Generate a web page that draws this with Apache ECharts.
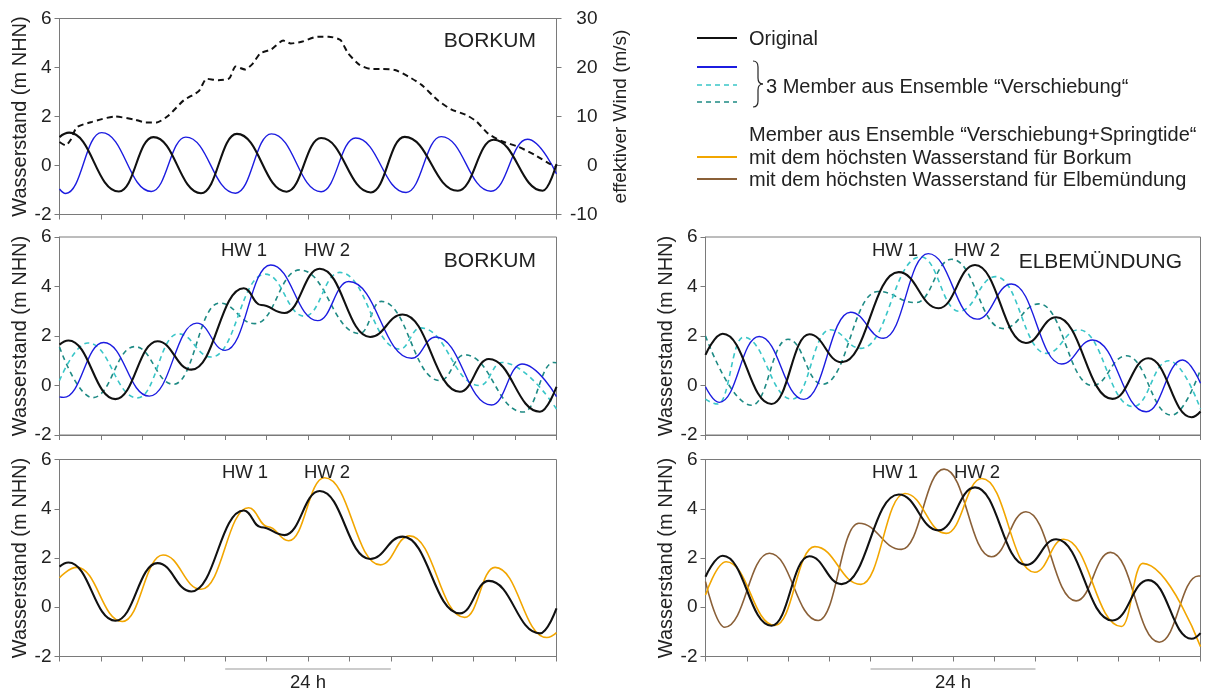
<!DOCTYPE html>
<html>
<head>
<meta charset="utf-8">
<script src="https://cdn.jsdelivr.net/npm/echarts@6/dist/echarts.min.js"></script>
<style>
html,body{margin:0;padding:0;background:#fff;}
#chart{width:1205px;height:691px;}
</style>
</head>
<body>
<div id="chart"></div>
<script>
// ---- data: [hour, value] (x axis 0..72 h) ----
const hourTicks = [0, 72, 6];           // min, max, interval
const levelTicks = [-2, 6, 2];
const windTicks = [-10, 30, 10];
const bracketHours = [24, 48];

// top panel: Borkum tide only + wind
const topOriginal = [[0,1.16],[1.4,1.34],[8.6,-1.06],[13.6,1.16],[20.5,-1.13],[25.7,1.29],[32.9,-1.07],[37.9,1.12],[45.1,-1.1],[50.0,1.17],[57.7,-1.03],[62.9,1.05],[70.0,-1.03],[72,0.06]];
const topShifted = [[0,-0.96],[0.9,-1.14],[6.1,1.34],[13.3,-1.06],[18.3,1.16],[25.5,-1.13],[30.7,1.29],[37.9,-1.07],[42.9,1.12],[50.2,-1.1],[55.3,1.18],[62.5,-1.05],[67.8,1.07],[72,-0.35]];
const topWind = [[0,4.8],[0.9,4.1],[1.6,5.2],[2.5,7.8],[4.7,8.9],[8.0,10.0],[10.8,9.4],[12.5,8.8],[14.1,8.8],[15.8,10.2],[18.0,13.3],[20.2,15.2],[21.3,17.7],[23.0,17.4],[24.6,17.8],[25.5,20.2],[26.9,19.6],[28.0,20.8],[29.1,22.9],[30.7,23.7],[32.4,25.5],[33.5,24.9],[35.2,25.3],[37.4,26.3],[39.0,26.3],[40.7,25.6],[41.8,22.9],[43.5,20.5],[45.1,19.7],[46.8,19.7],[48.6,19.5],[50.5,18.2],[52.5,16.4],[54.8,13.3],[56.8,11.4],[58.8,10.4],[60.4,9.0],[62.1,6.5],[64.0,5.0],[66.5,3.8],[68.8,2.2],[70.7,0.6],[72,-0.3]];

// Borkum
const bkOriginal = [[0,1.65],[1.3,1.82],[8.1,-0.55],[14.2,1.79],[19.1,0.64],[26.7,3.93],[29.2,3.25],[32.6,2.93],[37.7,4.72],[45.0,1.96],[49.7,2.87],[58.0,-0.25],[62.2,1.07],[69.6,-1.06],[72,-0.05]];
const bkBlue = [[0,-0.46],[0.6,-0.48],[6.4,1.74],[13.0,-0.43],[19.9,2.52],[24.0,1.42],[30.6,4.87],[37.4,2.62],[41.9,4.2],[51.0,1.1],[54.5,1.96],[62.6,-0.79],[67.0,0.87],[72,-0.45]];
const bkCyan = [[0,0.2],[4.1,1.72],[11.3,-0.5],[17.2,2.09],[22.0,1.15],[29.8,4.5],[35.5,2.8],[40.6,4.57],[49.3,1.47],[52.3,2.33],[60.9,0.0],[64.1,0.93],[72,-0.95]];
const bkTeal = [[0,1.55],[4.8,-0.49],[10.9,1.57],[16.5,0.05],[23.2,3.33],[28.3,2.5],[34.8,4.67],[43.5,2.1],[46.6,3.4],[55.1,0.2],[58.7,1.24],[67.2,-1.07],[71.6,0.93],[72,0.92]];
const bkOrange = [[0,1.2],[2.5,1.62],[9.1,-0.58],[15.0,2.12],[20.5,0.73],[27.4,4.04],[30.2,3.27],[33.2,2.7],[38.4,5.26],[46.5,1.72],[50.7,2.9],[58.7,-0.41],[63.1,1.62],[70.6,-1.23],[72,-1.03]];

// Elbemuendung
const elOriginal = [[0,1.24],[2.5,2.09],[9.6,-0.75],[15.1,2.07],[19.8,0.94],[28.1,4.58],[33.9,3.12],[39.2,4.87],[46.6,1.72],[51.0,2.76],[59.2,-0.54],[64.4,1.1],[70.7,-1.28],[72,-1.05]];
const elBlue = [[0,-0.05],[2.0,-0.68],[7.8,1.98],[14.3,-0.56],[21.1,2.96],[25.9,1.91],[32.4,5.33],[39.5,2.68],[44.5,4.1],[51.8,0.87],[56.3,1.84],[64.1,-1.06],[69.4,1.03],[72,0.09]];
const elCyan = [[0,-0.55],[1.8,-0.75],[5.5,1.95],[12.6,-0.55],[18.1,2.25],[22.6,1.5],[31.3,5.2],[36.9,3.0],[42.2,4.4],[49.6,1.3],[54.3,2.25],[62.2,-0.85],[67.4,1.0],[72,-0.95]];
const elTeal = [[0,2.0],[6.7,-0.8],[12.0,1.87],[17.0,0.05],[25.1,3.8],[30.6,3.35],[35.8,5.1],[43.3,2.3],[48.5,3.3],[56.3,0.0],[61.2,1.2],[67.8,-1.2],[72,0.65]];
const elOrange = [[0,0.5],[3.0,1.85],[10.1,-0.74],[15.9,2.46],[22.6,0.93],[29.0,4.62],[35.0,3.0],[40.2,5.23],[47.9,1.42],[52.1,2.76],[60.5,-0.78],[63.6,1.78],[72,-1.6]];
const elBrown = [[0,1.04],[2.8,-0.81],[9.3,2.19],[16.4,-0.54],[22.3,3.41],[28.5,2.35],[34.7,5.61],[41.6,2.05],[46.6,3.88],[53.9,0.26],[58.9,2.23],[66.0,-1.42],[71.7,1.27],[72,1.27]];

// ---- styling ----
const FONT = '"Liberation Sans", Arial, sans-serif';
const TXT = '#222';
const AX = '#7a7a7a';
const C = {black:'#111111', blue:'#1c1ce0', cyan:'#3ac6c8', teal:'#1e8a84', orange:'#f2a600', brown:'#8a6038'};

const grids = [
  {left:59.5, top:18.5, width:497, height:196},
  {left:59.5, top:237, width:497, height:198},
  {left:705.5, top:237, width:495, height:198},
  {left:59.5, top:459.5, width:497, height:197},
  {left:705.5, top:459.5, width:495, height:197}
];

const xAxes = grids.map((g,i)=>({
  type:'value', gridIndex:i, min:hourTicks[0], max:hourTicks[1], interval:hourTicks[2],
  axisLabel:{show:false}, splitLine:{show:false},
  axisLine:{onZero:false, lineStyle:{color:AX, width:1}},
  axisTick:{inside:false, length:5, lineStyle:{color:AX}}
}));
const yAxes = grids.map((g,i)=>({
  type:'value', gridIndex:i, min:levelTicks[0], max:levelTicks[1], interval:levelTicks[2],
  position:'left', splitLine:{show:false},
  axisLine:{show:true, onZero:false, lineStyle:{color:AX, width:1}},
  axisTick:{show:true, inside:false, length:5, lineStyle:{color:AX}},
  axisLabel:{color:TXT, fontSize:19, fontFamily:FONT, margin:8},
  name:'Wasserstand (m NHN)', nameLocation:'middle', nameRotate:90, nameGap:28,
  nameTextStyle:{color:TXT, fontSize:20, fontFamily:FONT}
}));
yAxes.push({
  type:'value', gridIndex:0, min:windTicks[0], max:windTicks[1], interval:windTicks[2],
  position:'right', splitLine:{show:false},
  axisLine:{show:true, onZero:false, lineStyle:{color:AX, width:1}},
  axisTick:{show:true, inside:false, length:5, lineStyle:{color:AX}},
  axisLabel:{color:TXT, fontSize:19, fontFamily:FONT, margin:41, align:'right'},
  name:'effektiver Wind (m/s)', nameLocation:'middle', nameRotate:90, nameGap:55,
  nameTextStyle:{color:TXT, fontSize:19, fontFamily:FONT}
});

function tide(data, gi, color, width, dashed, yi){
  return {
    type:'line', data:data, xAxisIndex:gi, yAxisIndex:(yi===undefined?gi:yi),
    showSymbol:false, symbol:'none', smooth:0.45, smoothMonotone:'x',
    lineStyle:{color:color, width:width, type:dashed?[5,4]:'solid'},
    silent:true, animation:false
  };
}

const series = [
  tide(topShifted,0,C.blue,1.4,false),
  tide(topOriginal,0,C.black,2.1,false),
  {type:'line', data:topWind, xAxisIndex:0, yAxisIndex:5, showSymbol:false, symbol:'none', smooth:0.2,
   lineStyle:{color:'#111', width:2, type:[6,4]}, animation:false},

  tide(bkTeal,1,C.teal,1.6,true),
  tide(bkCyan,1,C.cyan,1.6,true),
  tide(bkBlue,1,C.blue,1.4,false),
  tide(bkOriginal,1,C.black,2.1,false),

  tide(elTeal,2,C.teal,1.6,true),
  tide(elCyan,2,C.cyan,1.6,true),
  tide(elBlue,2,C.blue,1.4,false),
  tide(elOriginal,2,C.black,2.1,false),

  tide(bkOrange,3,C.orange,1.6,false),
  tide(bkOriginal,3,C.black,2.1,false),

  tide(elBrown,4,C.brown,1.6,false),
  tide(elOrange,4,C.orange,1.6,false),
  tide(elOriginal,4,C.black,2.1,false)
];

function txt(x,y,s,size,align){
  return {type:'text', x:x, y:y, silent:true, z:50,
    style:{text:s, fill:TXT, font:size+'px '+FONT, textAlign:align||'left', textVerticalAlign:'middle'}};
}
function lline(x1,x2,y,color,dashed){
  return {type:'line', silent:true, z:50, shape:{x1:x1,y1:y,x2:x2,y2:y},
    style:{stroke:color, lineWidth:dashed?1.6:1.8, lineDash:dashed?[5,4]:null}};
}
function curve(x1,y1,cx,cy,x2,y2){
  return {type:'bezierCurve', silent:true, z:50, shape:{x1:x1,y1:y1,cpx1:cx,cpy1:cy,x2:x2,y2:y2},
    style:{stroke:'#222', lineWidth:1.2, fill:null}};
}
function seg(x1,y1,x2,y2){
  return {type:'line', silent:true, z:50, shape:{x1:x1,y1:y1,x2:x2,y2:y2}, style:{stroke:'#222', lineWidth:1.2}};
}

const chart = echarts.init(document.getElementById('chart'), null, {renderer:'canvas'});
const baseOption = {
  backgroundColor:'#fff', animation:false,
  grid: grids.map(g=>Object.assign({show:true, borderColor:AX, borderWidth:1, backgroundColor:'transparent'}, g)),
  xAxis:xAxes, yAxis:yAxes, series:series
};
chart.setOption(baseOption);

// annotations
const g = [];
g.push(txt(536,41,'BORKUM',21,'right'));
g.push(txt(536,261,'BORKUM',21,'right'));
g.push(txt(1182,262,'ELBEMÜNDUNG',21,'right'));
g.push(txt(244,251,'HW 1',18.5,'center'));
g.push(txt(327,251,'HW 2',18.5,'center'));
g.push(txt(895,251,'HW 1',18.5,'center'));
g.push(txt(977,251,'HW 2',18.5,'center'));
g.push(txt(245,473,'HW 1',18.5,'center'));
g.push(txt(327,473,'HW 2',18.5,'center'));
g.push(txt(895,473,'HW 1',18.5,'center'));
g.push(txt(977,473,'HW 2',18.5,'center'));

// 24 h brackets from the hour scale
[3,4].forEach(gi=>{
  const p1 = chart.convertToPixel({xAxisIndex:gi}, bracketHours[0]);
  const p2 = chart.convertToPixel({xAxisIndex:gi}, bracketHours[1]);
  g.push({type:'line', silent:true, shape:{x1:p1,y1:669,x2:p2,y2:669}, style:{stroke:'#9a9a9a', lineWidth:1.2}});
  g.push(txt((p1+p2)/2,683,'24 h',18.5,'center'));
});

// legend
g.push(lline(697,737,38,C.black,false));
g.push(txt(749,39,'Original',20));
g.push(lline(697,737,67,C.blue,false));
g.push(lline(697,737,85,C.cyan,true));
g.push(lline(697,737,102,C.teal,true));
// brace
g.push(curve(753,61,758,61,758,67));
g.push(seg(758,67,758,78));
g.push(curve(758,78,758,84,763,84));
g.push(curve(763,84,758,84,758,90));
g.push(seg(758,90,758,101));
g.push(curve(758,101,758,107,753,107));
g.push(txt(766,87,'3 Member aus Ensemble \u201CVerschiebung\u201C',20));
g.push(txt(749,135,'Member aus Ensemble \u201CVerschiebung+Springtide\u201C',20));
g.push(lline(697,737,157,C.orange,false));
g.push(txt(749,158,'mit dem höchsten Wasserstand für Borkum',20));
g.push(lline(697,737,179,C.brown,false));
g.push(txt(749,180,'mit dem höchsten Wasserstand für Elbemündung',20));

chart.setOption({graphic:g});
</script>
</body>
</html>
